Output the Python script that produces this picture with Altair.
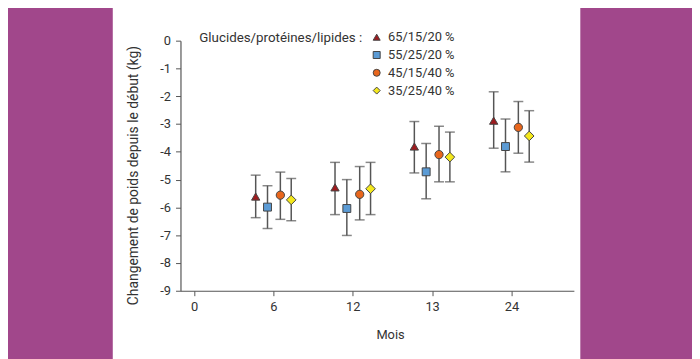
import altair as alt
import pandas as pd

# ---- data ----
tick_labels = ["0", "6", "12", "13", "24"]
month_idx = [1, 2, 3, 4]          # index of 6, 12, 13, 24 on the x axis
series = ["65/15/20 %", "55/25/20 %", "45/15/40 %", "35/25/40 %"]

mean_a = [-5.61, -5.28, -3.81, -2.88]
hi_a = [-4.84, -4.38, -2.91, -1.84]
lo_a = [-6.37, -6.26, -4.76, -3.87]

mean_b = [-5.99, -6.04, -4.72, -3.81]
hi_b = [-5.22, -5.00, -3.70, -2.82]
lo_b = [-6.76, -7.01, -5.69, -4.72]

mean_c = [-5.56, -5.53, -4.10, -3.12]
hi_c = [-4.73, -4.53, -3.08, -2.19]
lo_c = [-6.43, -6.45, -5.08, -4.05]

mean_d = [-5.73, -5.33, -4.19, -3.43]
hi_d = [-4.96, -4.38, -3.29, -2.52]
lo_d = [-6.48, -6.26, -5.08, -4.37]

# ---- styles ----
offsets = [-0.224, -0.075, 0.087, 0.224]   # dodge within a month group
colors = ["#9E1B1E", "#5B9BD5", "#E8661C", "#F4E81C"]
shapes = ["triangle-up", "square", "circle", "diamond"]
sizes = [70, 64, 70, 95]
purple = "#A1478B"
FONT = "Roboto"
TXT = "#333333"

rows = []
for s, name in enumerate(series):
    m, h, l = [(mean_a, hi_a, lo_a), (mean_b, hi_b, lo_b),
               (mean_c, hi_c, lo_c), (mean_d, hi_d, lo_d)][s]
    for i, mi in enumerate(month_idx):
        rows.append({"serie": name, "pos": mi + offsets[s],
                     "mean": m[i], "hi": h[i], "lo": l[i], "sz": sizes[s]})
df = pd.DataFrame(rows)

W, H = 398, 253
xscale = alt.Scale(domain=[-0.172, 4.787], nice=False, zero=False)
yscale = alt.Scale(domain=[-9, 0], nice=False)

label_expr = "[" + ",".join("'%s'" % t for t in tick_labels) + "][datum.value]"

xaxis = alt.Axis(values=[0, 1, 2, 3, 4], labelExpr=label_expr, grid=False,
                 tickSize=5, labelPadding=5, titlePadding=15,
                 titleX=212, titleFontSize=13, labelFontSize=13, zindex=1,
                 labelOverlap=False)
yaxis = alt.Axis(values=list(range(-9, 1)), grid=False, tickSize=5,
                 labelExpr="datum.value == 0 ? '0' : '-' + abs(datum.value)",
                 labelPadding=5, titleX=-40, titleY=136, labelOverlap=False,
                 labelBound=False, labelFlush=False,
                 titleFontSize=14, labelFontSize=13, zindex=1)
XT = "Mois"
YT = "Changement de poids depuis le début (kg)"

base = alt.Chart(df)

bg = alt.Chart(pd.DataFrame({"a": [0]})).mark_rect(color="white").encode(
    x=alt.value(-68.5), x2=alt.value(404.5), y=alt.value(-60), y2=alt.value(H + 100)
)

def X():
    return alt.X("pos:Q", scale=xscale, title=XT, axis=xaxis)

def Y(f):
    return alt.Y(f, scale=yscale, title=YT, axis=yaxis)

rules = base.mark_rule(color="#555555", strokeWidth=1.5).encode(
    x=X(), y=Y("hi:Q"), y2="lo:Q")
cap_hi = base.mark_tick(color="#555555", thickness=1.5, size=10, orient="horizontal").encode(
    x=X(), y=Y("hi:Q"))
cap_lo = base.mark_tick(color="#555555", thickness=1.5, size=10, orient="horizontal").encode(
    x=X(), y=Y("lo:Q"))

points = base.mark_point(filled=True, opacity=1, stroke="#444444", strokeWidth=1).encode(
    x=X(), y=Y("mean:Q"),
    color=alt.Color("serie:N", scale=alt.Scale(domain=series, range=colors),
                    legend=alt.Legend(title="Glucides/protéines/lipides :", orient="none",
                                      legendX=19, legendY=-10, titleOrient="left",
                                      titleAnchor="start",
                                      titleFontSize=13.5, titleFontWeight="normal",
                                      titleColor=TXT, titlePadding=7, labelFontSize=13,
                                      labelColor=TXT, symbolSize=50, rowPadding=4,
                                      symbolStrokeColor="#444444", symbolStrokeWidth=1,
                                      labelOffset=5)),
    shape=alt.Shape("serie:N", scale=alt.Scale(domain=series, range=shapes)),
    size=alt.Size("sz:Q", scale=None, legend=None),
)

chart = alt.layer(bg, rules, cap_hi, cap_lo, points).properties(
    width=W, height=H, background=purple,
    autosize=alt.AutoSizeParams(type="none"),
    padding={"left": 174.5, "top": 31, "right": 119.5, "bottom": 67},
).configure_view(stroke=None).configure_axis(
    domainColor="#555555", tickColor="#555555", labelColor=TXT, titleColor=TXT,
    labelFont=FONT, titleFont=FONT, titleFontWeight="normal", domainWidth=1.2,
    labelOverlap=False,
).configure_legend(labelFont=FONT, titleFont=FONT)

chart.save("out.html", embed_options={"renderer": "svg", "actions": False})
